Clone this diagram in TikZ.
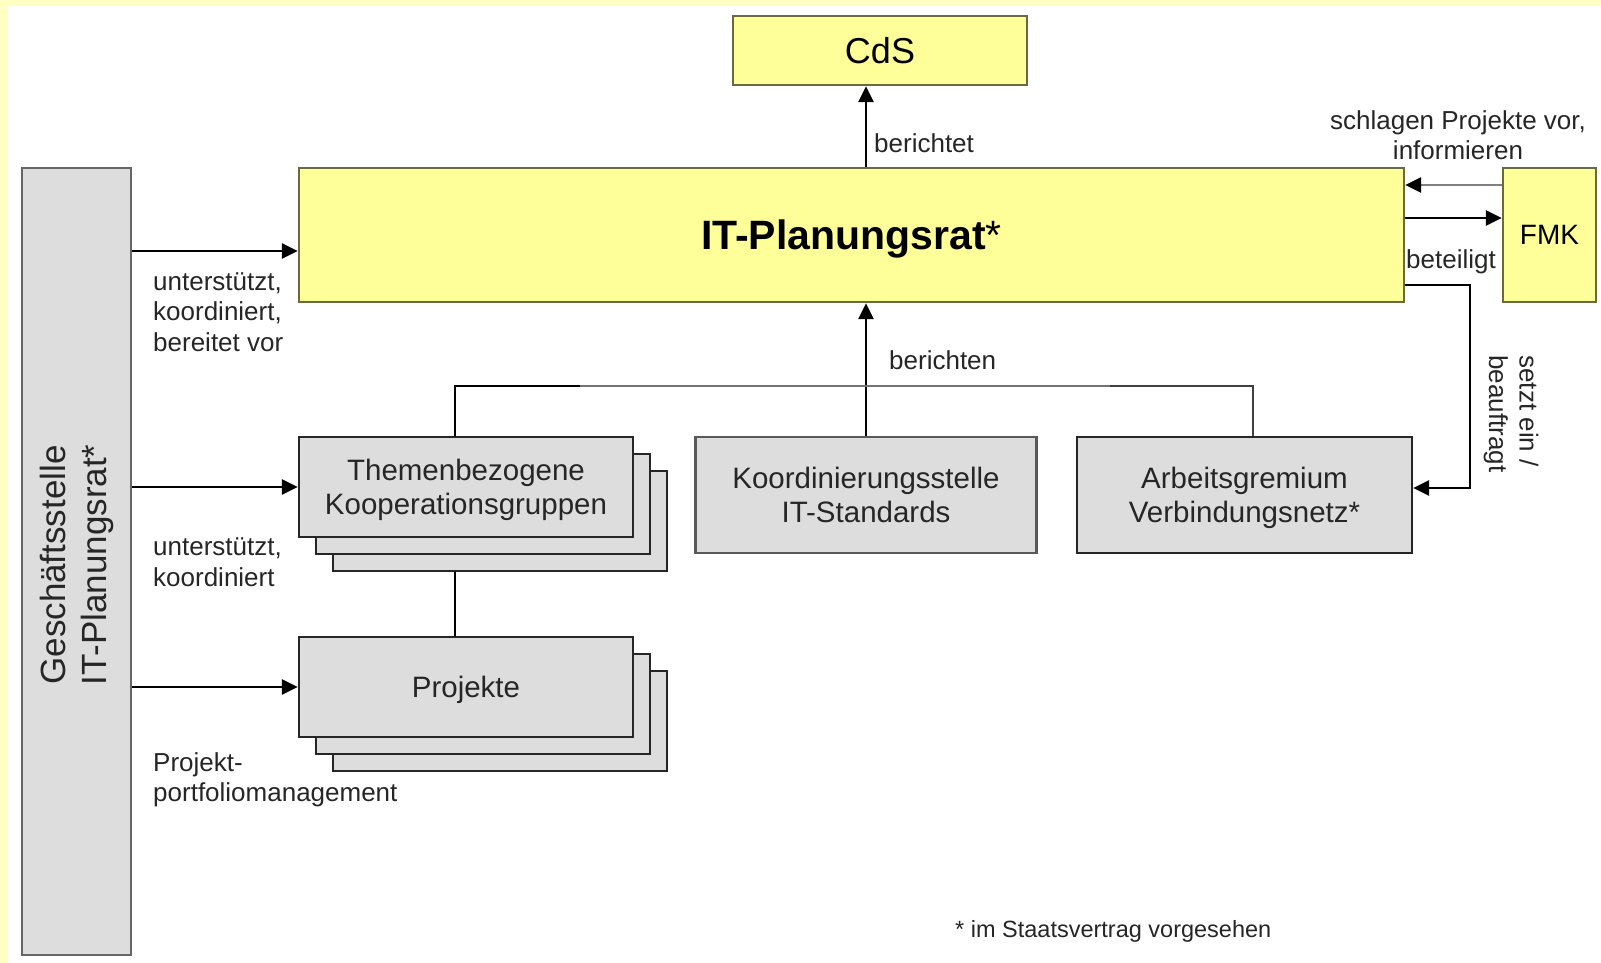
\documentclass[tikz,border=0pt]{standalone}
\usepackage{fontspec}
\setmainfont{Liberation Sans}
\usetikzlibrary{arrows.meta,calc}
\definecolor{bandyellow}{HTML}{FFFFC4}
\definecolor{boxyellow}{HTML}{FFFF99}
\definecolor{boxgray}{HTML}{DDDDDD}
\definecolor{oliveline}{HTML}{6A6A40}
\definecolor{txtgray}{HTML}{262626}
\begin{document}
\begin{tikzpicture}[x=1pt,y=-1pt,
  ybox/.style={draw=oliveline, fill=boxyellow, line width=2.4pt, inner sep=0pt, text=black},
  gbox/.style={draw=black!85, fill=boxgray, line width=2.4pt, inner sep=0pt, align=center,
     font=\fontsize{29.5}{34}\selectfont, text=txtgray, minimum width=334, minimum height=100, text depth=0pt},
  lbl/.style={font=\fontsize{26}{30.5}\selectfont, inner sep=0pt, align=left, text=txtgray},
  conn/.style={line width=2.8pt, black},
  arr/.style={line width=2.8pt, black, -{Triangle[length=16pt,width=15pt,color=black]}}
]
\useasboundingbox (0,0) rectangle (1601,963);
\fill[bandyellow] (0,0) rectangle (1601,963);
\fill[white] (8,6) rectangle (1601,963);

% main boxes
\node[ybox, minimum width=294, minimum height=69, font=\fontsize{36}{40}\selectfont] (cds) at (880,50.5) {CdS};
\node[ybox, minimum width=1105, minimum height=134, font=\fontsize{41}{46}\selectfont, text depth=0pt] (itp) at (851.5,235) {\textbf{IT-Planungsrat}*};
\node[ybox, minimum width=93, minimum height=134, font=\fontsize{28}{32}\selectfont] (fmk) at (1549.5,235) {\raisebox{-3pt}{FMK}};

\node[draw=black!60, fill=boxgray, line width=2.8pt, minimum width=109, minimum height=787, inner sep=0pt] (gs) at (76.5,561.5) {};
\node[rotate=90, font=\fontsize{35}{41}\selectfont, align=center, text=txtgray, inner sep=0pt] (gst) at (77,565) {Geschäftsstelle\\IT-Planungsrat*};

% stacked boxes
\node[gbox] (th3) at (500,521) {};
\node[gbox] (th2) at (483,504) {};
\node[gbox] (th) at (466,487) {Themenbezogene\\Kooperationsgruppen};
\node[gbox] (pr3) at (500,721) {};
\node[gbox] (pr2) at (483,704) {};
\node[gbox] (pr) at (466,687) {Projekte};

\node[gbox, draw=black!65, minimum width=341, minimum height=116] (ks) at (866,495) {Koordinierungsstelle\\IT-Standards};
\node[gbox, minimum width=335, minimum height=116] (ab) at (1244.5,495) {Arbeitsgremium\\Verbindungsnetz*};

% connectors
\draw[arr] (itp.north -| ks.north) -- (cds.south -| ks.north);
\draw[arr] (ks.north) -- (ks.north |- itp.south);

\coordinate (bl) at (455,386);
\coordinate (bm1) at (580,386);
\coordinate (bm2) at (1110,386);
\coordinate (br) at (1253,386);
\draw[conn] (th.north -| bl) -- (bl) -- (bm1);
\draw[conn, black!55, line width=2.2pt] (bm1) -- (bm2);
\draw[conn, black!75] (bm2) -- (br) -- (ab.north -| br);
\draw[conn] (th3.south -| bl) -- (pr.north -| bl);

\coordinate (a1) at (131,251);
\draw[arr] (gs.east |- a1) -- (itp.west |- a1);
\draw[arr] (gs.east |- th.west) -- (th.west);
\draw[arr] (gs.east |- pr.west) -- (pr.west);

\coordinate (f1) at (1450,185);
\coordinate (f2) at (1450,218);
\draw[arr, black!50] (fmk.west |- f1) -- (itp.east |- f1);
\draw[arr] (itp.east |- f2) -- (fmk.west |- f2);

\coordinate (b1) at (1470,285);
\coordinate (b2) at (1470,488);
\draw[arr] (itp.east |- b1) -- (b1) -- (b2) -- (ab.east |- b2);

% labels
\node[lbl, anchor=west] (l1) at (874,143) {berichtet};
\node[lbl, anchor=west] (l2) at (889,360) {berichten};
\node[lbl, anchor=west] (l3) at (1406,262) {beteiligt};
\node[lbl, align=center] (l4) at (1458,135) {schlagen Projekte vor,\\informieren};
\node[lbl, rotate=-90] (l5) at (1511,414) {setzt ein /\\beauftragt};
\node[lbl, anchor=west] (l6) at (153,312) {unterstützt,\\koordiniert,\\bereitet vor};
\node[lbl, anchor=west] (l7) at (153,562) {unterstützt,\\koordiniert};
\node[lbl, anchor=west] (l8) at (153,780) {Projekt-\\portfoliomanagement};
\node[lbl, anchor=west, font=\fontsize{23.5}{28}\selectfont] (l9) at (955,931) {* im Staatsvertrag vorgesehen};
\end{tikzpicture}
\end{document}
